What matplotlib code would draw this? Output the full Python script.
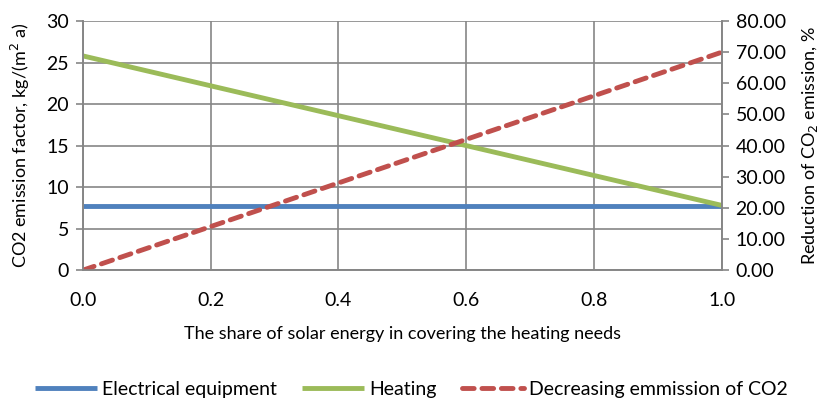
import numpy as np
import matplotlib.pyplot as plt
import matplotlib

plt.rcParams['font.family'] = ['Lato', 'DejaVu Sans']

# data
share = [0.0, 0.1, 0.2, 0.3, 0.4, 0.5, 0.6, 0.7, 0.8, 0.9, 1.0]
electrical = [7.7, 7.7, 7.7, 7.7, 7.7, 7.7, 7.7, 7.7, 7.7, 7.7, 7.7]
heating = [25.8, 24.0, 22.2, 20.4, 18.6, 16.8, 15.0, 13.2, 11.4, 9.6, 7.8]
reduction = [0.0, 7.0, 14.0, 21.0, 28.0, 35.0, 42.0, 49.0, 56.0, 63.0, 70.0]

grid_c = '#868686'

fig = plt.figure(figsize=(8.22, 4.05), dpi=100)
ax = fig.add_axes([0.101, 0.333, 0.777, 0.615])
ax2 = ax.twinx()

l1, = ax.plot(share, electrical, color='#4F81BD', lw=3.5, solid_capstyle='butt')
l2, = ax.plot(share, heating, color='#9BBB59', lw=3.5, solid_capstyle='butt')
l3, = ax2.plot(share, reduction, color='#C0504D', lw=3.5, dashes=(2.4, 1.6), dash_capstyle='round')

ax.set_xlim(0, 1.0)
ax.set_ylim(0, 30)
ax2.set_ylim(0, 80)
ax.set_xticks(np.arange(0, 1.01, 0.2))
ax.set_xticklabels(['0.0', '0.2', '0.4', '0.6', '0.8', '1.0'])
ax.set_yticks(np.arange(0, 31, 5))
ax2.set_yticks(np.arange(0, 81, 10))
ax2.set_yticklabels(['%.2f' % v for v in np.arange(0, 81, 10)])

ax.grid(True, color=grid_c, lw=1.2)
ax.set_axisbelow(True)
for a in (ax, ax2):
	for s in a.spines.values():
		s.set_color(grid_c)
		s.set_linewidth(1.2)
	a.spines['top'].set_visible(False)
	a.tick_params(labelsize=14, color=grid_c, width=1.2, length=5, pad=5)
ax.tick_params(axis='x', length=0, pad=16)

ax.set_ylabel('CO2 emission factor, kg/(m$^2$ a)', fontsize=13, labelpad=10)
ax2.set_ylabel('Reduction of CO$_2$ emission, %', fontsize=13, labelpad=10)
ax.set_xlabel('The share of solar energy in covering the heating needs', fontsize=13, labelpad=12)

fig.legend([l1, l2, l3], ['Electrical equipment', 'Heating', 'Decreasing emmission of CO2'],
	loc='lower center', bbox_to_anchor=(0.5, -0.025), ncol=3, frameon=False, fontsize=14,
	handlelength=3.2, columnspacing=1.3, handletextpad=0.25)

fig.savefig('out.png', dpi=100)
